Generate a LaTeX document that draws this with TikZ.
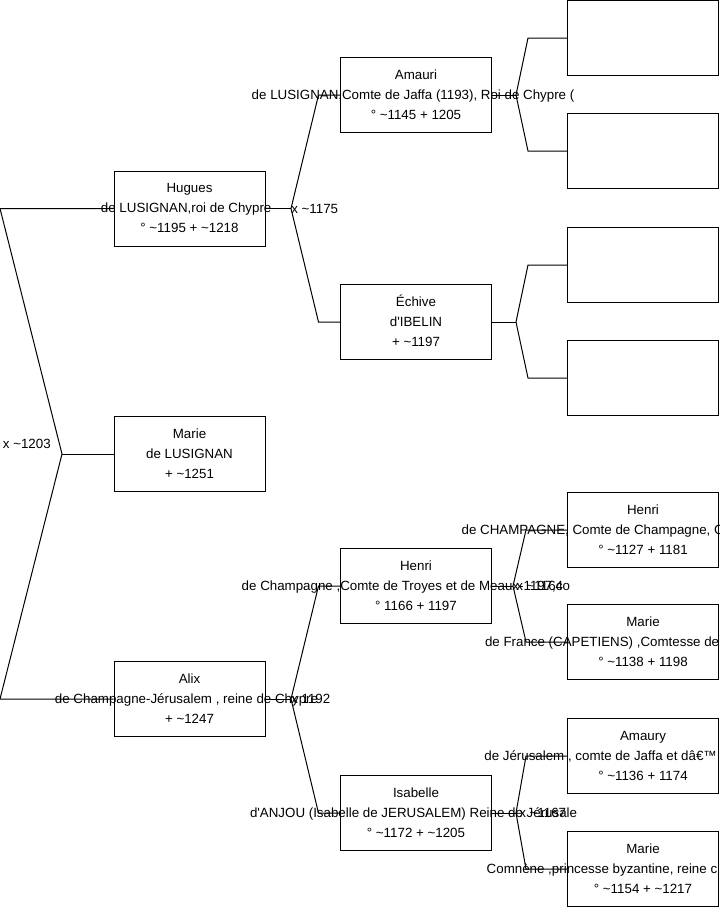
\documentclass[tikz,border=0pt]{standalone}
\usepackage{fontspec}
\setmainfont{Liberation Sans}
\usetikzlibrary{calc}
\newcommand{\ca}{\textasciitilde}
% name, shift of the long middle line, middle line, dates
\newcommand{\who}[4]{\strut#1\\\makebox[0pt][l]{\hspace*{#2}#3}\\#4\strut}
\newcommand{\whoc}[3]{\strut#1\\#2\\#3\strut}

\begin{document}
\begin{tikzpicture}[x=0.75pt, y=-0.75pt, every node/.style={inner sep=0pt},
  person/.style={draw=black, line width=0.75pt, minimum width=113.25pt, minimum height=56.25pt, align=center, font=\fontsize{10}{15}\selectfont},
  wed/.style={font=\fontsize{10}{15}\selectfont, anchor=west},
  link/.style={draw=black, line width=0.75pt}]
\clip (0,0) rectangle (719,908);
% generation 1
\node[person] (hugues) at (189.5,208.5) {\who{Hugues}{-66.4pt}{de LUSIGNAN,roi de Chypre}{° \ca1195 + \ca1218}};
\node[person] (marie) at (189.5,454) {\whoc{Marie}{de LUSIGNAN}{+ \ca1251}};
\node[person] (alix) at (189.5,699) {\who{Alix}{-100.9pt}{de Champagne-Jérusalem , reine de Chypre}{+ \ca1247}};
% generation 2
\node[person] (amauri) at (416,95) {\who{Amauri}{-123.2pt}{de LUSIGNAN,Comte de Jaffa (1193), Roi de Chypre (}{° \ca1145 + 1205}};
\node[person] (echive) at (416,322) {\whoc{Échive}{d\textquotesingle IBELIN}{+ \ca1197}};
\node[person] (henri) at (416,586) {\who{Henri}{-130.7pt}{de Champagne ,Comte de Troyes et de Meaux-1197,co}{° 1166 + 1197}};
\node[person] (isabelle) at (416,813) {\who{Isabelle}{-124.5pt}{d\textquotesingle ANJOU (Isabelle de JERUSALEM) Reine de Jérusale}{° \ca1172 + \ca1205}};
% generation 3
\node[person] (amauripa) at (643,38) {};
\node[person] (amaurima) at (643,151) {};
\node[person] (echivepa) at (643,265) {};
\node[person] (echivema) at (643,378) {};
\node[person] (henripa) at (643,530) {\who{Henri}{-136pt}{de CHAMPAGNE, Comte de Champagne, C}{° \ca1127 + 1181}};
\node[person] (henrima) at (643,642) {\who{Marie}{-118.5pt}{de France (CAPETIENS) ,Comtesse de}{° \ca1138 + 1198}};
\node[person] (isapa) at (643,756) {\who{Amaury}{-119pt}{de Jérusalem , comte de Jaffa et dâ€™}{° \ca1136 + 1174}};
\node[person] (isama) at (643,869) {\who{Marie}{-117.2pt}{Comnène ,princesse byzantine, reine c}{° \ca1154 + \ca1217}};

% Marie's parents
\coordinate (fm) at (62,454);
\draw[link] (hugues.west) -- (0,208.5) -- (fm) -- (0,699) -- (alix.west);
\draw[link] (fm) -- (marie.west);
\node[wed, anchor=east] (w1203) at (51,444) {x \ca1203};
% Hugues's parents
\coordinate (fh) at (291,208.5);
\draw[link] (hugues.east) -- (fh);
\draw[link] (amauri.west) -- ++(-21.5,0) -- (fh) -- ($(echive.west)+(-21.5,0)$) -- (echive.west);
\node[wed] (w1175) at (291,208.5) {x \ca1175};
% Alix's parents
\coordinate (fa) at (291,699);
\draw[link] (alix.east) -- (fa);
\draw[link] (henri.west) -- ++(-21.5,0) -- (fa) -- ($(isabelle.west)+(-21.5,0)$) -- (isabelle.west);
\node[wed] (w1192) at (291,699) {x 1192};
% Amauri's parents
\coordinate (fam) at (516,95);
\draw[link] (amauri.east) -- (fam);
\draw[link] (amauripa.west) -- ++(-39,0) -- (fam) -- ($(amaurima.west)+(-39,0)$) -- (amaurima.west);
% Echive's parents
\coordinate (fe) at (516,322);
\draw[link] (echive.east) -- (fe);
\draw[link] (echivepa.west) -- ++(-39,0) -- (fe) -- ($(echivema.west)+(-39,0)$) -- (echivema.west);
% Henri's parents
\coordinate (fhe) at (513,586);
\draw[link] (henri.east) -- (fhe);
\draw[link] (henripa.west) -- ++(-41,0) -- (fhe) -- ($(henrima.west)+(-41,0)$) -- (henrima.west);
\node[wed] (w1164) at (516,586) {x \ca1164};
% Isabelle's parents
\coordinate (fi) at (516,813);
\draw[link] (isabelle.east) -- (fi);
\draw[link] (isapa.west) -- ++(-41,0) -- (fi) -- ($(isama.west)+(-41,0)$) -- (isama.west);
\node[wed] (w1167) at (519,813) {x \ca1167};
\end{tikzpicture}
\end{document}
